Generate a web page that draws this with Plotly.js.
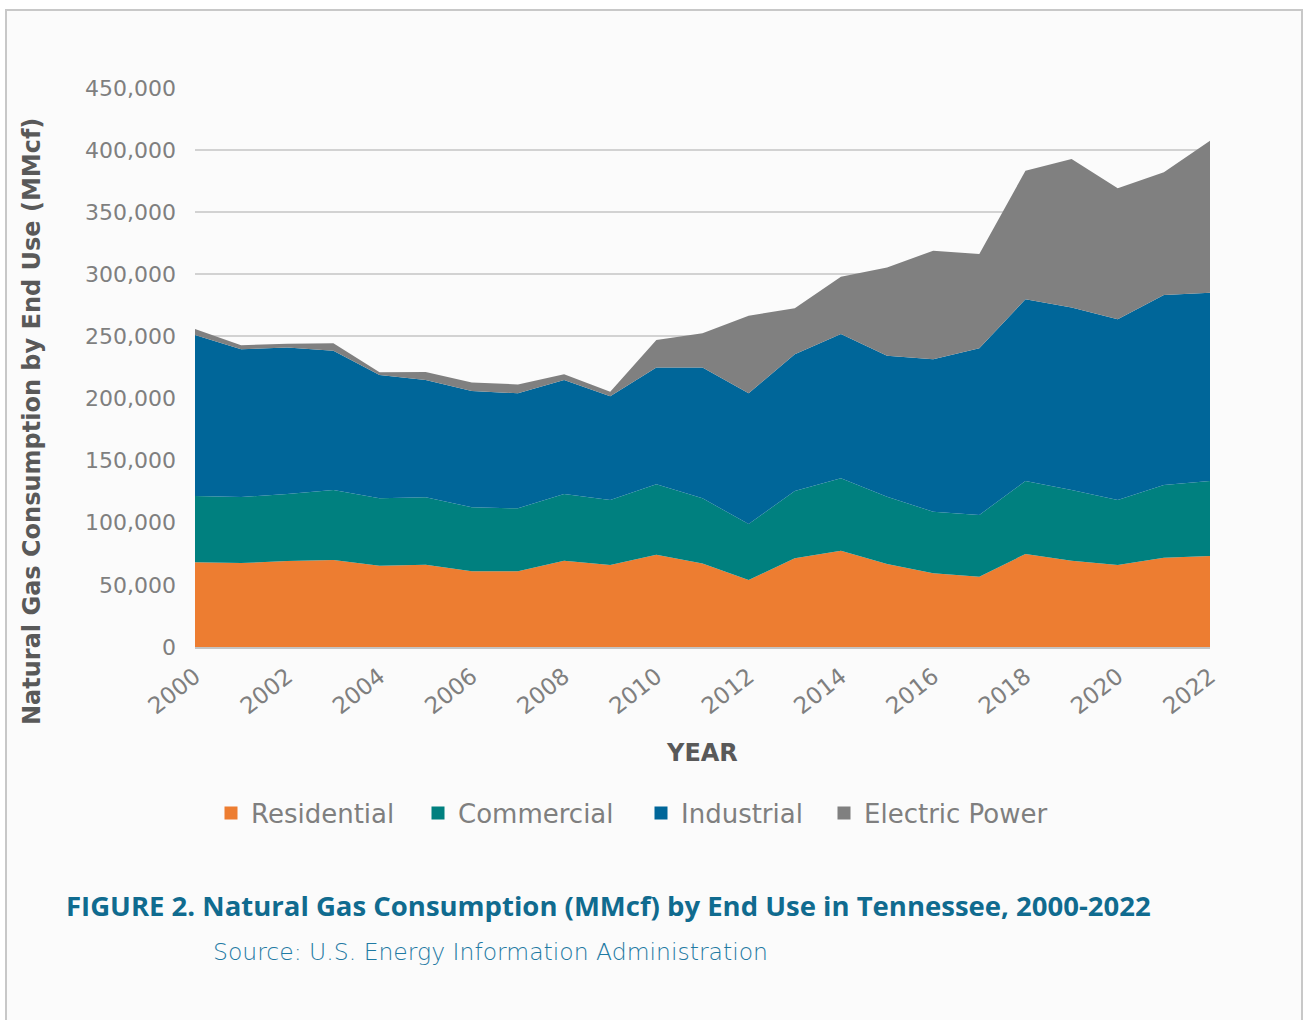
<!DOCTYPE html>
<html>
<head>
<meta charset="utf-8">
<script src="https://cdn.plot.ly/plotly-3.0.1.min.js"></script>
<style>
  html, body { margin: 0; padding: 0; background: #ffffff; }
  #chart { width: 1306px; height: 1020px; }
</style>
</head>
<body>
<div id="chart"></div>
<script>
// Natural gas consumption in Tennessee by end use, MMcf
const years = [2000, 2001, 2002, 2003, 2004, 2005, 2006, 2007, 2008, 2009, 2010, 2011,
               2012, 2013, 2014, 2015, 2016, 2017, 2018, 2019, 2020, 2021, 2022];

const residential = [68200, 67600, 69200, 70000, 65500, 66300, 60900, 60900, 69500, 66000, 74300, 67300,
                     53900, 71400, 77500, 66800, 59300, 56600, 74900, 69500, 66000, 71900, 73300];
const commercial  = [53400, 53150, 54000, 56400, 54200, 54200, 51500, 50700, 53700, 52300, 56700, 52400,
                     45100, 54200, 58300, 54200, 49600, 49700, 58700, 56900, 52300, 58500, 60300];
const industrial  = [129600, 118850, 118000, 112100, 99300, 94400, 93700, 92600, 91700, 83500, 93900, 105400,
                     105200, 110000, 116200, 113500, 122700, 134100, 146300, 147000, 145500, 153000, 151600];
const electric    = [4800, 3300, 3000, 6000, 2100, 6500, 6900, 7200, 4600, 3700, 22200, 27400,
                     62500, 37000, 46100, 71100, 87400, 76000, 103500, 119400, 105400, 98700, 122400];

const seriesNames  = ['Residential', 'Commercial', 'Industrial', 'Electric Power'];
const seriesValues = [residential, commercial, industrial, electric];
const seriesColors = ['#ED7D31', '#00807F', '#006699', '#808080'];

const yTickValues = [0, 50000, 100000, 150000, 200000, 250000, 300000, 350000, 400000, 450000];

const chartTitle  = 'FIGURE 2. Natural Gas Consumption (MMcf) by End Use in Tennessee, 2000-2022';
const sourceText  = 'Source: U.S. Energy Information Administration';
const yAxisTitle  = 'Natural Gas Consumption by End Use (MMcf)';
const xAxisTitle  = 'YEAR';

// Plot area in page pixels, used to turn page positions into paper fractions
const PLOT = { left: 195, right: 1210, top: 88, bottom: 647 };
const px = x => (x - PLOT.left) / (PLOT.right - PLOT.left);
const py = y => (PLOT.bottom - y) / (PLOT.bottom - PLOT.top);

const labelFont = 'DejaVu Sans, Noto Sans, sans-serif';
const gray = '#7f7f7f';

// stacked areas
const traces = seriesNames.map((name, i) => ({
  type: 'scatter',
  mode: 'lines',
  x: years,
  y: seriesValues[i],
  name: name,
  stackgroup: 'gas',
  line: { width: 0, color: seriesColors[i] },
  fillcolor: seriesColors[i],
  legendgroup: name,
  showlegend: false,
  hovertemplate: name + ' %{x}: %{y:,}<extra></extra>'
}));

// square legend keys, one legend per entry so each sits at its own spot
const legendNames = ['legend', 'legend2', 'legend3', 'legend4'];
const legendCenters = [231, 438, 661, 844];
seriesNames.forEach((name, i) => {
  traces.push({
    type: 'scatter',
    mode: 'markers',
    x: [null],
    y: [null],
    name: name,
    legend: legendNames[i],
    legendgroup: name,
    showlegend: true,
    marker: { symbol: 'square', size: 13, color: seriesColors[i] },
    hoverinfo: 'skip'
  });
});

const legendBase = {
  orientation: 'h',
  yanchor: 'middle',
  xanchor: 'left',
  y: py(813),
  bgcolor: 'rgba(0,0,0,0)',
  borderwidth: 0,
  font: { family: labelFont, size: 26, color: gray }
};

const layout = {
  width: 1306,
  height: 1020,
  margin: { l: PLOT.left, r: 1306 - PLOT.right, t: PLOT.top, b: 1020 - PLOT.bottom, pad: 0 },
  paper_bgcolor: '#ffffff',
  plot_bgcolor: 'rgba(0,0,0,0)',
  showlegend: true,
  xaxis: {
    range: [2000, 2022],
    tickmode: 'linear',
    tick0: 2000,
    dtick: 2,
    tickangle: -38,
    ticks: '',
    ticklabelstandoff: 5,
    showgrid: false,
    zeroline: false,
    showline: true,
    linecolor: '#c4c4c4',
    linewidth: 2,
    tickfont: { family: labelFont, size: 23, color: gray },
    fixedrange: true
  },
  yaxis: {
    range: [0, 450000],
    tickmode: 'array',
    tickvals: yTickValues,
    tickformat: ',d',
    ticks: '',
    ticklabelstandoff: 18,
    showgrid: true,
    gridcolor: '#d2d2d2',
    gridwidth: 1.5,
    zeroline: false,
    showline: false,
    tickfont: { family: labelFont, size: 22, color: gray },
    fixedrange: true
  },
  legend:  Object.assign({}, legendBase, { x: px(legendCenters[0] - 20) }),
  legend2: Object.assign({}, legendBase, { x: px(legendCenters[1] - 20) }),
  legend3: Object.assign({}, legendBase, { x: px(legendCenters[2] - 20) }),
  legend4: Object.assign({}, legendBase, { x: px(legendCenters[3] - 20) }),
  shapes: [
    {
      // framed panel behind the figure
      type: 'rect', xref: 'paper', yref: 'paper', layer: 'below',
      x0: px(6), x1: px(1302), y0: py(1040), y1: py(10),
      fillcolor: '#fbfbfb',
      line: { color: '#c8c8c8', width: 2 }
    }
  ],
  annotations: [
    {
      text: yAxisTitle, xref: 'paper', yref: 'paper',
      x: px(32), y: py(422), xanchor: 'center', yanchor: 'middle',
      textangle: -90, showarrow: false,
      font: { family: labelFont, size: 24, color: '#595959', weight: 'bold' }
    },
    {
      text: xAxisTitle, xref: 'paper', yref: 'paper',
      x: px(702), y: py(753), xanchor: 'center', yanchor: 'middle',
      showarrow: false,
      font: { family: labelFont, size: 24, color: '#595959', weight: 'bold' }
    },
    {
      text: chartTitle, xref: 'paper', yref: 'paper',
      x: px(64), y: py(905), xanchor: 'left', yanchor: 'middle',
      showarrow: false,
      font: { family: 'Open Sans, Liberation Sans, sans-serif', size: 27.5, color: '#106b8f', weight: 'bold' }
    },
    {
      text: sourceText, xref: 'paper', yref: 'paper',
      x: px(211), y: py(952), xanchor: 'left', yanchor: 'middle',
      showarrow: false,
      font: { family: 'DejaVu Sans, Open Sans, sans-serif', size: 23.5, color: '#1f7aa3', weight: 200 }
    }
  ]
};

Plotly.newPlot('chart', traces, layout, { displayModeBar: false });
</script>
</body>
</html>
